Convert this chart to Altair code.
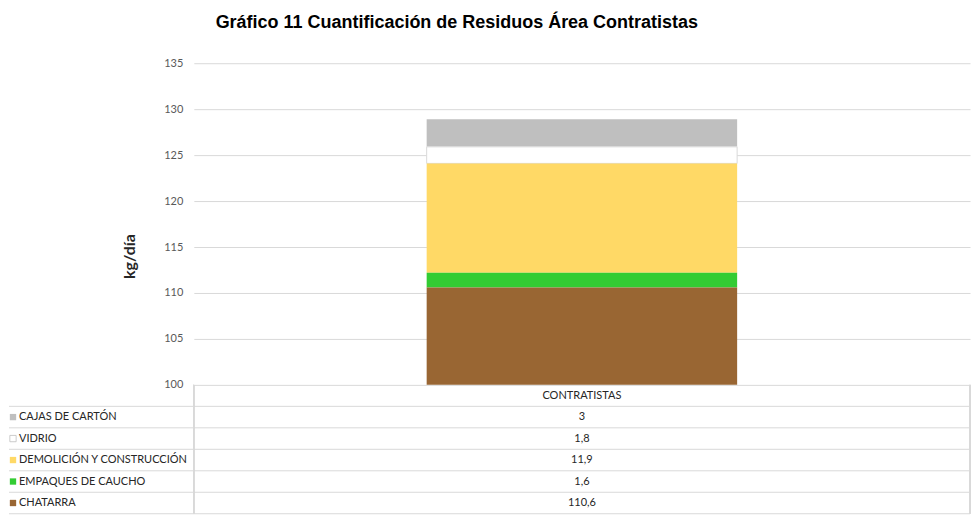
import altair as alt
import pandas as pd

titulo = "Gráfico 11 Cuantificación de Residuos Área Contratistas"
categoria = "CONTRATISTAS"
materiales = ["CAJAS DE CARTÓN", "VIDRIO", "DEMOLICIÓN Y CONSTRUCCIÓN", "EMPAQUES DE CAUCHO", "CHATARRA"]
valores = [3, 1.8, 11.9, 1.6, 110.6]
colores = ["#bfbfbf", "#ffffff", "#ffd966", "#33cc33", "#996633"]
ticks_y = [100, 105, 110, 115, 120, 125, 130, 135]

n = len(materiales)
df_barras = pd.DataFrame({
    "categoria": [categoria] * n,
    "material": materiales,
    "valor": valores,
    "orden": list(range(n - 1, -1, -1)),  # CHATARRA at the bottom of the stack
})

encabezado = "__encabezado__"
filas = [encabezado] + materiales
df_tabla = pd.DataFrame({
    "categoria": [categoria] * (n + 1),
    "fila": filas,
    "etiqueta": [""] + materiales,
    "material": [""] + materiales,
    "texto": [categoria] + [str(v).replace(".", ",") for v in valores],
})

W = 777
H_TOP = 322
H_TAB = 129
GRID = "#d9d9d9"
FONT = "Lato"
TXT = "#262626"

color_scale = alt.Scale(domain=materiales, range=colores)
x_scale = alt.Scale(paddingInner=0, paddingOuter=0.75)

barras = alt.Chart(df_barras).mark_bar(clip=True, strokeWidth=1).encode(
    x=alt.X("categoria:N", axis=None, scale=x_scale),
    y=alt.Y(
        "valor:Q",
        stack="zero",
        scale=alt.Scale(domain=[100, 135], zero=False),
        axis=alt.Axis(
            values=ticks_y, grid=True, gridColor=GRID, domain=False, ticks=False,
            labelPadding=11, labelFont=FONT, labelFontSize=11, labelColor="#595959",
            title="kg/día", titleFont=FONT, titleFontSize=16, titleFontWeight="bold",
            titleColor="#262626", titlePadding=26, titleY=193,
        ),
    ),
    color=alt.Color("material:N", scale=color_scale, legend=None),
    stroke=alt.condition(alt.datum.material == "VIDRIO", alt.value(GRID), alt.value("transparent")),
    order=alt.Order("orden:Q"),
).properties(
    width=W, height=H_TOP,
    title=alt.TitleParams(
        titulo, anchor="start", dx=94, offset=11, baseline="alphabetic",
        font="Liberation Sans", fontSize=18, fontWeight="bold", color="#000000",
    ),
)

y_band = alt.Scale(type="band", domain=filas, paddingInner=0, paddingOuter=0)
base_tab = alt.Chart(df_tabla)

lineas_h = base_tab.mark_rule(color=GRID, strokeWidth=1).encode(
    y=alt.Y("fila:N", scale=y_band, axis=None, bandPosition=1),
    x=alt.value(-185),
    x2=alt.value("width"),
)
linea_izq = base_tab.mark_rule(color=GRID, strokeWidth=1).encode(
    x=alt.value(0), y=alt.value(0), y2=alt.value("height")
)
linea_der = base_tab.mark_rule(color=GRID, strokeWidth=1).encode(
    x=alt.value("width"), y=alt.value(0), y2=alt.value("height")
)
valores_txt = base_tab.mark_text(font=FONT, fontSize=11, color=TXT).encode(
    x=alt.X("categoria:N", axis=None, scale=x_scale, bandPosition=0.5),
    y=alt.Y("fila:N", scale=y_band, axis=None, bandPosition=0.5),
    text="texto:N",
)
etiquetas = base_tab.mark_text(font=FONT, fontSize=11, color=TXT, align="left").encode(
    x=alt.value(-175),
    y=alt.Y("fila:N", scale=y_band, axis=None, bandPosition=0.5),
    text="etiqueta:N",
)
cuadros = base_tab.transform_filter(alt.datum.material != "").mark_point(
    shape="square", filled=True, size=40, strokeWidth=0.8
).encode(
    x=alt.value(-181),
    y=alt.Y("fila:N", scale=y_band, axis=None, bandPosition=0.5),
    fill=alt.Color("material:N", scale=color_scale, legend=None),
    stroke=alt.condition(alt.datum.material == "VIDRIO", alt.value("#bfbfbf"), alt.value("transparent")),
    opacity=alt.value(1),
)

tabla = alt.layer(lineas_h, linea_izq, linea_der, valores_txt, etiquetas, cuadros).properties(
    width=W, height=H_TAB
)

chart = alt.vconcat(barras, tabla, spacing=0, bounds="flush").properties(
    padding={"left": 0, "top": 6, "right": 0, "bottom": 0}
).configure_view(stroke=None)

chart.save("out.html", embed_options={"renderer": "svg", "actions": False})
